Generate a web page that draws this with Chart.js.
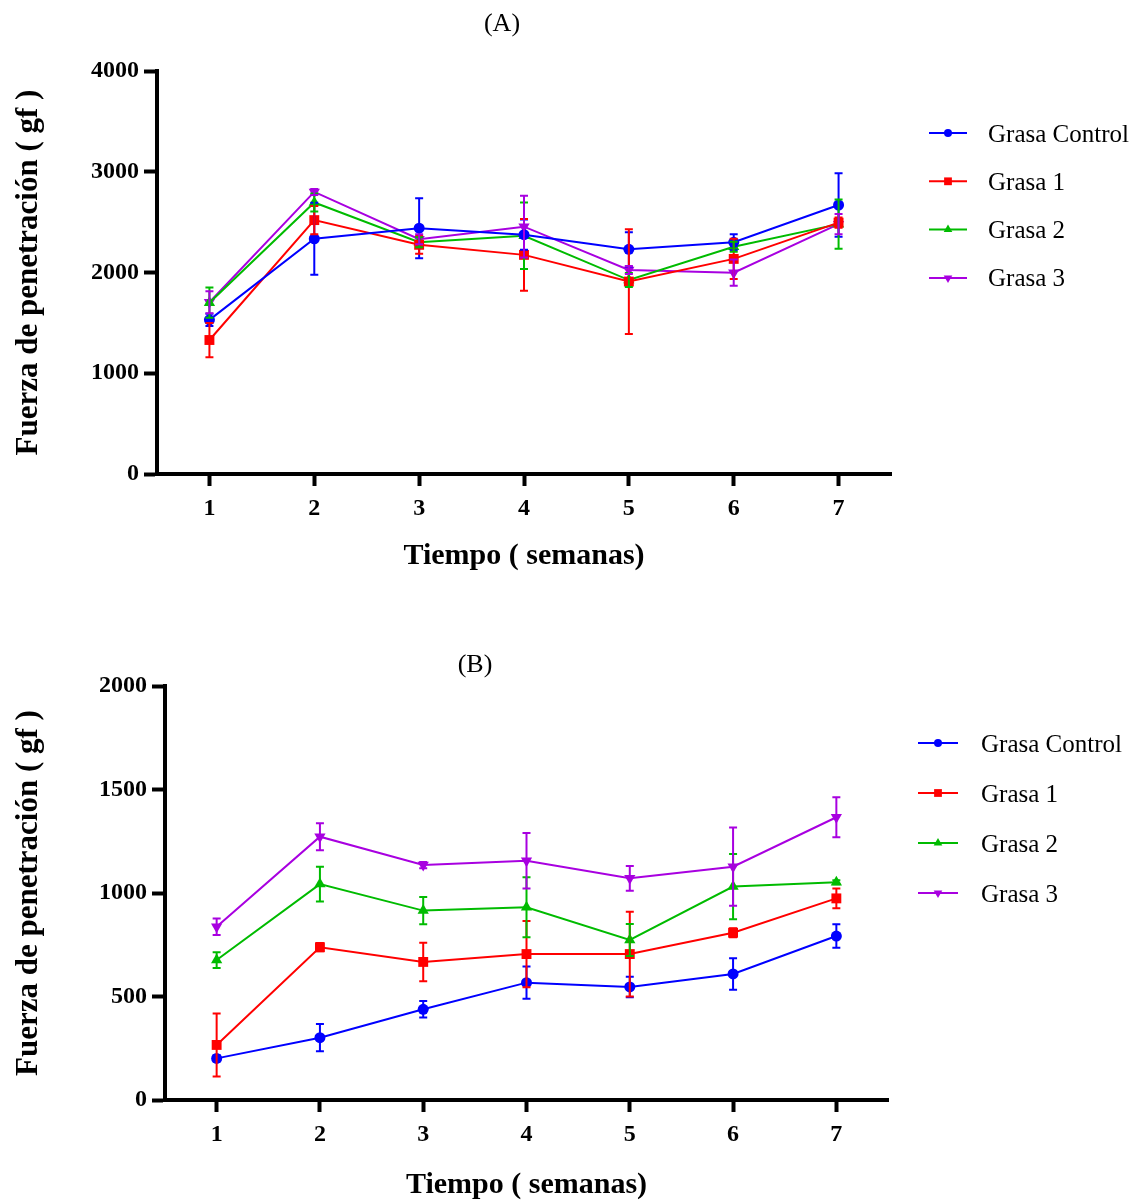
<!DOCTYPE html>
<html>
<head>
<meta charset="utf-8">
<script src="https://cdn.jsdelivr.net/npm/chart.js@4.4.0/dist/chart.umd.min.js"></script>
<style>
    body { margin: 0; background: #fff; }
    .panel { position: absolute; left: 0; }
    #panelA { top: 0; }
    #panelB { top: 600px; }
</style>
</head>
<body>
<div class="panel" id="panelA"><canvas id="chartA" width="1133" height="600"></canvas></div>
<div class="panel" id="panelB"><canvas id="chartB" width="1133" height="603"></canvas></div>
<script>
// Data
const weeks = ['1', '2', '3', '4', '5', '6', '7'];
const seriesNames = ['Grasa Control', 'Grasa 1', 'Grasa 2', 'Grasa 3'];

// (A)
const controlA = [1530, 2335, 2440, 2375, 2230, 2300, 2670];
const controlAErr = [60, 357, 298, 150, 170, 80, 315];
const grasa1A = [1330, 2520, 2275, 2175, 1910, 2135, 2495];
const grasa1AErr = [170, 140, 90, 355, 520, 200, 50];
const grasa2A = [1700, 2695, 2300, 2365, 1925, 2255, 2480];
const grasa2AErr = [150, 90, 50, 330, 70, 50, 245];
const grasa3A = [1705, 2800, 2330, 2455, 2025, 1998, 2480];
const grasa3AErr = [110, 30, 50, 307, 40, 130, 100];
const yTicksA = { max: 4000, step: 1000 };

// (B)
const controlB = [201, 301, 438, 567, 546, 609, 792];
const controlBErr = [15, 66, 40, 78, 50, 76, 57];
const grasa1B = [266, 738, 667, 705, 705, 808, 974];
const grasa1BErr = [152, 20, 93, 160, 205, 22, 48];
const grasa2B = [676, 1043, 915, 931, 773, 1031, 1052];
const grasa2BErr = [38, 84, 66, 145, 77, 158, 10];
const grasa3B = [837, 1272, 1135, 1156, 1071, 1127, 1366];
const grasa3BErr = [40, 65, 15, 134, 60, 189, 97];
const yTicksB = { max: 2000, step: 500 };

const FONT = '"Liberation Serif", "Times New Roman", serif';

const seriesStyle = [
    { color: '#0000ff', pointStyle: 'circle', radius: 5.5, rotation: 0 },
    { color: '#ff0000', pointStyle: 'rect', radius: 7, rotation: 0 },
    { color: '#00bb00', pointStyle: 'triangle', radius: 6.5, rotation: 0 },
    { color: '#a800e0', pointStyle: 'triangle', radius: 6.5, rotation: 180 }
];

// error bars, drawn from each dataset's errors through the y scale
const errorBarsPlugin = {
    id: 'errorBars',
    afterDatasetsDraw(chart) {
        const ctx = chart.ctx;
        const yScale = chart.scales.y;
        chart.data.datasets.forEach((ds, i) => {
            const meta = chart.getDatasetMeta(i);
            ctx.save();
            ctx.strokeStyle = ds.borderColor;
            ctx.lineWidth = 2;
            meta.data.forEach((pt, j) => {
                const v = ds.data[j];
                const e = ds.errors[j];
                const top = yScale.getPixelForValue(v + e);
                const bottom = yScale.getPixelForValue(v - e);
                const x = pt.x;
                ctx.beginPath();
                ctx.moveTo(x, top);
                ctx.lineTo(x, bottom);
                ctx.moveTo(x - 4, top);
                ctx.lineTo(x + 4, top);
                ctx.moveTo(x - 4, bottom);
                ctx.lineTo(x + 4, bottom);
                ctx.stroke();
            });
            ctx.restore();
        });
    }
};

// legend on the right: line with marker, then the name
const sideLegendPlugin = {
    id: 'sideLegend',
    afterDraw(chart, args, opts) {
        const ctx = chart.ctx;
        ctx.save();
        chart.data.datasets.forEach((ds, i) => {
            const y = opts.y + i * opts.gap;
            ctx.strokeStyle = ds.borderColor;
            ctx.lineWidth = 2;
            ctx.beginPath();
            ctx.moveTo(opts.x1, y);
            ctx.lineTo(opts.x2, y);
            ctx.stroke();
            ctx.fillStyle = ds.borderColor;
            Chart.helpers.drawPoint(ctx, {
                pointStyle: ds.pointStyle,
                radius: ds.pointRadius - 1.5,
                rotation: ds.pointRotation,
                borderWidth: 0
            }, (opts.x1 + opts.x2) / 2, y);
            ctx.fillStyle = '#000';
            ctx.font = '25px ' + FONT;
            ctx.textAlign = 'left';
            ctx.textBaseline = 'alphabetic';
            ctx.fillText(ds.label, opts.textX, y + 8.5);
        });
        ctx.restore();
    }
};

const panelLabelPlugin = {
    id: 'panelLabel',
    afterDraw(chart, args, opts) {
        const ctx = chart.ctx;
        ctx.save();
        ctx.fillStyle = '#000';
        ctx.font = '26px ' + FONT;
        ctx.textAlign = 'center';
        ctx.textBaseline = 'middle';
        ctx.fillText(opts.text, opts.x, opts.y);
        ctx.restore();
    }
};

function buildChart(canvasId, values, errors, yTicks, box, legend, label) {
    const canvas = document.getElementById(canvasId);
    const datasets = values.map((vals, i) => ({
        label: seriesNames[i],
        data: vals,
        errors: errors[i],
        borderColor: seriesStyle[i].color,
        backgroundColor: seriesStyle[i].color,
        borderWidth: 2,
        pointStyle: seriesStyle[i].pointStyle,
        pointRadius: seriesStyle[i].radius,
        pointRotation: seriesStyle[i].rotation,
        pointBorderWidth: 0,
        tension: 0,
        fill: false
    }));

    return new Chart(canvas.getContext('2d'), {
        type: 'line',
        data: { labels: weeks, datasets: datasets },
        options: {
            responsive: false,
            animation: false,
            events: [],
            layout: {
                padding: { left: 0, top: box.top, right: canvas.width - box.right, bottom: 0 }
            },
            plugins: {
                legend: { display: false },
                tooltip: { enabled: false },
                sideLegend: legend,
                panelLabel: label
            },
            scales: {
                x: {
                    type: 'category',
                    offset: true,
                    afterFit: s => { s.height = canvas.height - box.bottom; },
                    border: { display: true, color: '#000', width: 4 },
                    grid: {
                        offset: false,
                        drawOnChartArea: false,
                        drawTicks: true,
                        tickLength: 12,
                        tickWidth: 4,
                        tickColor: '#000'
                    },
                    ticks: {
                        color: '#000',
                        padding: 8,
                        font: { family: FONT, size: 24, weight: 'bold' }
                    },
                    title: {
                        display: true,
                        text: 'Tiempo ( semanas)',
                        color: '#000',
                        font: { family: FONT, size: 30, weight: 'bold' },
                        padding: { top: 0, bottom: box.xTitlePad }
                    }
                },
                y: {
                    min: 0,
                    max: yTicks.max,
                    afterFit: s => { s.width = box.left; },
                    border: { display: true, color: '#000', width: 4 },
                    grid: {
                        drawOnChartArea: false,
                        drawTicks: true,
                        tickLength: 13,
                        tickWidth: 4,
                        tickColor: '#000'
                    },
                    ticks: {
                        stepSize: yTicks.step,
                        color: '#000',
                        padding: 5,
                        callback: v => String(v),
                        font: { family: FONT, size: 24, weight: 'bold' }
                    },
                    title: {
                        display: true,
                        text: 'Fuerza de penetración ( gf )',
                        color: '#000',
                        font: { family: FONT, size: 31, weight: 'bold' },
                        padding: { top: 10, bottom: 0 }
                    }
                }
            }
        },
        plugins: [errorBarsPlugin, sideLegendPlugin, panelLabelPlugin]
    });
}

buildChart('chartA',
    [controlA, grasa1A, grasa2A, grasa3A],
    [controlAErr, grasa1AErr, grasa2AErr, grasa3AErr],
    yTicksA,
    { left: 157, top: 71, right: 891, bottom: 474, xTitlePad: 26 },
    { x1: 929, x2: 967, textX: 988, y: 133, gap: 48.3 },
    { text: '(A)', x: 502, y: 24 });

buildChart('chartB',
    [controlB, grasa1B, grasa2B, grasa3B],
    [controlBErr, grasa1BErr, grasa2BErr, grasa3BErr],
    yTicksB,
    { left: 165, top: 86, right: 888, bottom: 500, xTitlePad: 0 },
    { x1: 918, x2: 958, textX: 981, y: 143, gap: 50 },
    { text: '(B)', x: 475, y: 65 });
</script>
</body>
</html>
